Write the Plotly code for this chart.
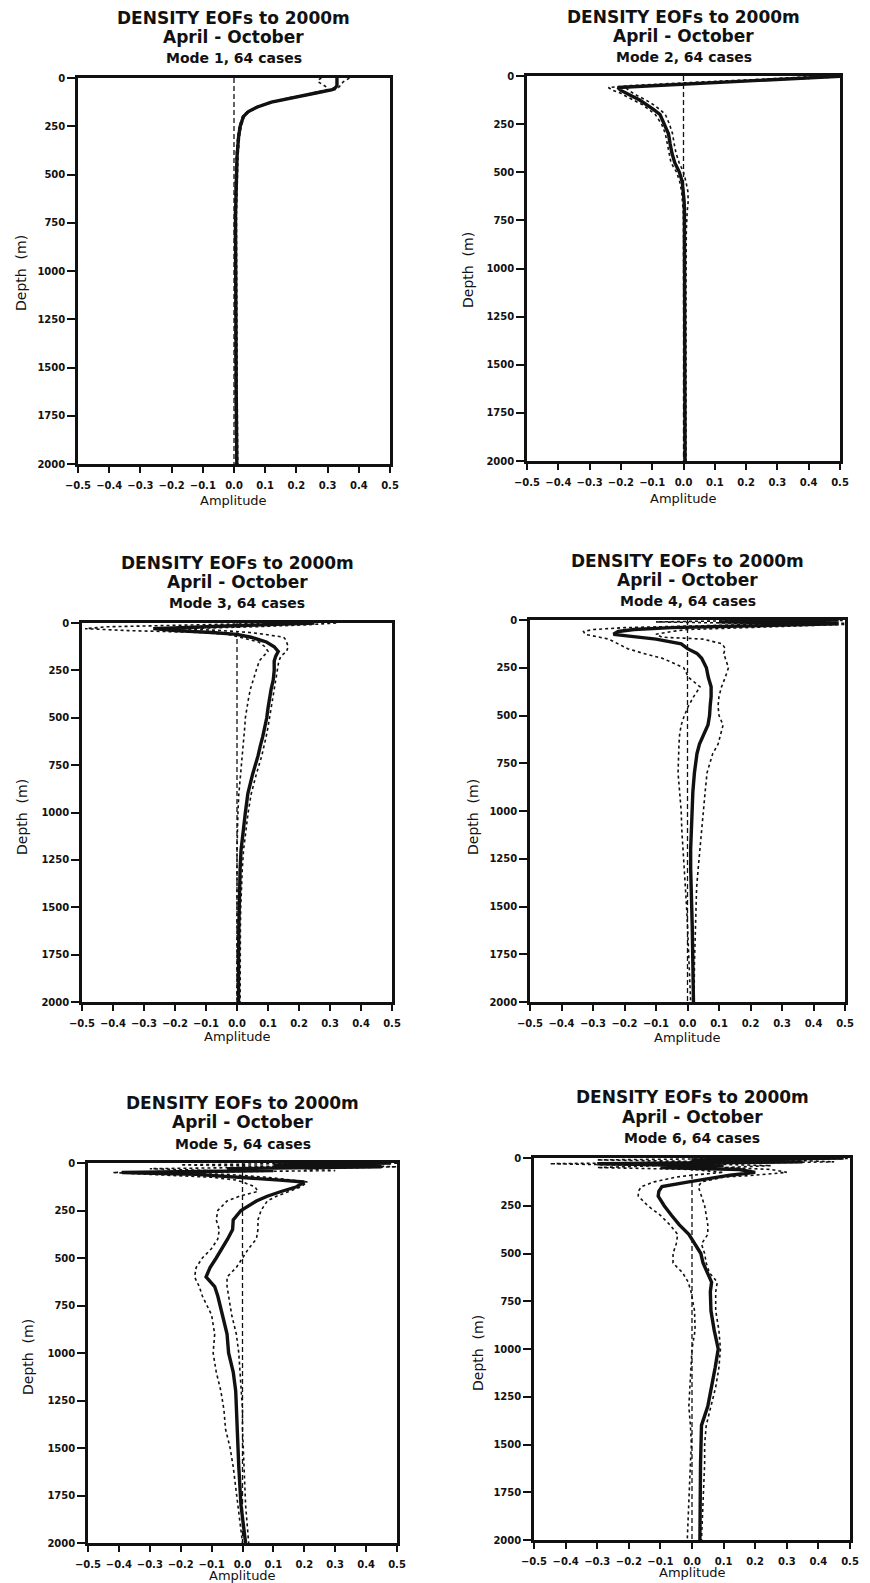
import plotly.graph_objects as go

# ---------------- data ----------------
depth = [0, 10, 20, 30, 40, 50, 60, 75, 90, 100, 125, 150, 175, 200, 250, 300, 350, 400, 450, 500,
         550, 600, 650, 700, 800, 900, 1000, 1100, 1200, 1300, 1400, 1500, 1600, 1800, 2000]

mode1_mean = [0.33, 0.33, 0.33, 0.33, 0.33, 0.325, 0.315, 0.27, 0.225, 0.19, 0.12, 0.075, 0.045, 0.03, 0.02, 0.015,
              0.012, 0.01, 0.009, 0.008, 0.007, 0.006, 0.006, 0.005, 0.005, 0.005, 0.005, 0.005, 0.005, 0.006,
              0.006, 0.007, 0.007, 0.008, 0.009]
mode1_lower = [0.28, 0.27, 0.27, 0.28, 0.29, 0.3, 0.3, 0.262, 0.218, 0.184, 0.115, 0.071, 0.042, 0.027, 0.017,
               0.012, 0.009, 0.007, 0.006, 0.005, 0.004, 0.003, 0.003, 0.002, 0.002, 0.002, 0.002, 0.002, 0.002,
               0.003, 0.003, 0.004, 0.004, 0.005, 0.006]
mode1_upper = [0.37, 0.36, 0.35, 0.345, 0.34, 0.335, 0.325, 0.278, 0.232, 0.196, 0.125, 0.079, 0.048, 0.033,
               0.023, 0.018, 0.015, 0.013, 0.012, 0.011, 0.01, 0.009, 0.009, 0.008, 0.008, 0.008, 0.008, 0.008,
               0.008, 0.009, 0.009, 0.01, 0.01, 0.011, 0.012]

mode2_mean = [0.52, 0.4, 0.26, 0.12, -0.01, -0.12, -0.21, -0.2, -0.18, -0.17, -0.14, -0.115, -0.095, -0.075,
              -0.06, -0.048, -0.043, -0.037, -0.028, -0.013, -0.004, 0.0, 0.002, 0.003, 0.003, 0.003, 0.004,
              0.004, 0.004, 0.004, 0.004, 0.005, 0.005, 0.005, 0.005]
mode2_lower = [0.45, 0.34, 0.21, 0.07, -0.06, -0.17, -0.24, -0.225, -0.2, -0.19, -0.16, -0.13, -0.11, -0.09,
               -0.07, -0.058, -0.052, -0.047, -0.04, -0.022, -0.012, -0.006, -0.003, -0.001, 0.0, 0.0, 0.001,
               0.001, 0.001, 0.001, 0.002, 0.002, 0.002, 0.002, 0.002]
mode2_upper = [0.56, 0.44, 0.3, 0.16, 0.03, -0.08, -0.185, -0.175, -0.16, -0.15, -0.12, -0.095, -0.075, -0.058,
               -0.045, -0.035, -0.03, -0.024, -0.014, 0.0, 0.008, 0.014, 0.015, 0.012, 0.009, 0.008, 0.008,
               0.008, 0.008, 0.008, 0.008, 0.008, 0.008, 0.008, 0.008]

mode3_mean = [0.25, 0.1, -0.1, -0.27, -0.2, -0.08, 0.0, 0.045, 0.08, 0.095, 0.12, 0.133, 0.125, 0.12, 0.12,
              0.117, 0.11, 0.104, 0.1, 0.096, 0.09, 0.083, 0.075, 0.068, 0.05, 0.035, 0.027, 0.02, 0.013, 0.01,
              0.008, 0.007, 0.006, 0.005, 0.005]
mode3_lower = [0.15, -0.15, -0.42, -0.49, -0.35, -0.12, -0.03, 0.01, 0.05, 0.07, 0.09, 0.1, 0.085, 0.072,
               0.062, 0.052, 0.043, 0.037, 0.031, 0.027, 0.025, 0.022, 0.02, 0.016, 0.011, 0.006, 0.003, 0.001,
               0.0, 0.0, 0.0, 0.0, 0.0, 0.0, 0.0]
mode3_upper = [0.32, 0.22, 0.05, -0.18, -0.05, 0.04, 0.09, 0.15, 0.158, 0.16, 0.165, 0.16, 0.142, 0.135, 0.13,
               0.125, 0.12, 0.115, 0.11, 0.107, 0.1, 0.094, 0.087, 0.08, 0.062, 0.046, 0.036, 0.028, 0.021,
               0.017, 0.014, 0.012, 0.011, 0.01, 0.01]

mode4_mean = [0.48, 0.1, 0.48, 0.15, -0.05, -0.17, -0.22, -0.235, -0.15, -0.1, -0.02, 0.0, 0.03, 0.045, 0.06,
              0.066, 0.075, 0.075, 0.072, 0.07, 0.065, 0.05, 0.038, 0.03, 0.022, 0.017, 0.014, 0.012, 0.01,
              0.01, 0.012, 0.013, 0.015, 0.017, 0.019]
mode4_lower = [0.3, -0.1, 0.3, 0.0, -0.2, -0.3, -0.33, -0.325, -0.28, -0.25, -0.22, -0.19, -0.14, -0.08,
               -0.012, 0.003, 0.04, 0.02, 0.003, -0.01, -0.02, -0.025, -0.027, -0.028, -0.03, -0.025, -0.02,
               -0.018, -0.014, -0.01, -0.005, -0.003, 0.0, 0.005, 0.01]
mode4_upper = [0.55, 0.3, 0.55, 0.35, 0.15, 0.0, -0.05, -0.1, -0.08, 0.05, 0.11, 0.12, 0.115, 0.12, 0.13,
               0.12, 0.108, 0.1, 0.097, 0.1, 0.113, 0.105, 0.097, 0.08, 0.062, 0.056, 0.05, 0.045, 0.038,
               0.034, 0.029, 0.027, 0.025, 0.022, 0.021]

mode5_mean = [0.48, 0.1, 0.45, -0.05, 0.1, -0.39, -0.15, 0.0, 0.12, 0.2, 0.175, 0.125, 0.08, 0.045, -0.005,
              -0.03, -0.032, -0.048, -0.065, -0.085, -0.105, -0.118, -0.09, -0.08, -0.065, -0.05, -0.045,
              -0.03, -0.022, -0.02, -0.018, -0.015, -0.012, -0.005, 0.01]
mode5_lower = [0.3, -0.2, 0.2, -0.3, -0.1, -0.42, -0.3, -0.1, -0.02, 0.0, 0.04, 0.05, -0.01, -0.05, -0.08,
               -0.085, -0.075, -0.08, -0.1, -0.13, -0.15, -0.155, -0.14, -0.13, -0.1, -0.09, -0.095, -0.085,
               -0.07, -0.06, -0.055, -0.04, -0.03, -0.015, 0.0]
mode5_upper = [0.52, 0.3, 0.5, 0.2, 0.3, -0.3, -0.05, 0.08, 0.16, 0.21, 0.19, 0.15, 0.11, 0.08, 0.06, 0.05,
               0.05, 0.045, 0.02, 0.0, -0.02, -0.05, -0.05, -0.045, -0.035, -0.02, -0.012, -0.008, -0.005,
               0.0, 0.0, 0.003, 0.005, 0.01, 0.02]

mode6_mean = [0.48, 0.0, 0.35, -0.3, 0.1, -0.1, 0.15, 0.2, 0.12, 0.08, -0.01, -0.095, -0.105, -0.107, -0.088,
              -0.065, -0.04, -0.01, 0.01, 0.028, 0.035, 0.048, 0.062, 0.058, 0.06, 0.07, 0.083, 0.073, 0.062,
              0.05, 0.03, 0.028, 0.027, 0.026, 0.025]
mode6_lower = [0.3, -0.3, 0.1, -0.45, -0.1, -0.3, 0.0, 0.1, 0.0, -0.05, -0.12, -0.16, -0.17, -0.17, -0.14,
               -0.1, -0.07, -0.045, -0.05, -0.06, -0.06, -0.03, -0.012, -0.003, 0.008, 0.01, 0.0, -0.003,
               -0.008, -0.01, -0.005, -0.002, -0.005, -0.01, -0.015]
mode6_upper = [0.55, 0.3, 0.45, 0.0, 0.25, 0.1, 0.25, 0.3, 0.2, 0.1, 0.03, 0.02, 0.025, 0.03, 0.04, 0.045,
               0.05, 0.05, 0.03, 0.04, 0.045, 0.055, 0.08, 0.075, 0.075, 0.085, 0.09, 0.085, 0.075, 0.06,
               0.045, 0.04, 0.04, 0.035, 0.03]

modes = [1, 2, 3, 4, 5, 6]
means = [mode1_mean, mode2_mean, mode3_mean, mode4_mean, mode5_mean, mode6_mean]
lowers = [mode1_lower, mode2_lower, mode3_lower, mode4_lower, mode5_lower, mode6_lower]
uppers = [mode1_upper, mode2_upper, mode3_upper, mode4_upper, mode5_upper, mode6_upper]

title_line1 = "DENSITY EOFs to 2000m"
title_line2 = "April - October"
n_cases = 64

x_tickvals = [-0.5, -0.4, -0.3, -0.2, -0.1, 0.0, 0.1, 0.2, 0.3, 0.4, 0.5]
x_ticktext = ["\u22120.5", "\u22120.4", "\u22120.3", "\u22120.2", "\u22120.1", "0.0", "0.1", "0.2", "0.3", "0.4", "0.5"]
y_tickvals = [0, 250, 500, 750, 1000, 1250, 1500, 1750, 2000]

# ---------------- layout (pixels) ----------------
W, H = 870, 1583
# plot boxes: left, right, top, bottom
boxes = [(78, 390, 78, 464), (527, 840, 76, 461),
         (82, 392, 623, 1002), (530, 845, 620, 1002),
         (88, 397, 1163, 1543), (534, 850, 1158, 1540)]
title_ys = [(18, 37, 58), (17, 36, 57), (563, 582, 603), (561, 580, 601), (1103, 1122, 1144), (1097, 1117, 1138)]
amp_y = [500, 498, 1036, 1037, 1575, 1572]
depth_lbl = [(21, 273), (468, 270), (22, 817), (473, 817), (28, 1357), (478, 1353)]

FONT = "DejaVu Sans"
INK = "#111111"

fig = go.Figure()
annotations = []
layout_axes = {}

for i, m in enumerate(modes):
    k = i + 1
    xa = "x" if k == 1 else f"x{k}"
    ya = "y" if k == 1 else f"y{k}"
    l, r, t, b = boxes[i]
    # zero reference (dashed)
    fig.add_trace(go.Scatter(x=[0, 0], y=[0, 2000], mode="lines", xaxis=xa, yaxis=ya,
                             line=dict(color=INK, width=1.3, dash="5px,3px"), showlegend=False, hoverinfo="skip"))
    fig.add_trace(go.Scatter(x=lowers[i], y=depth, mode="lines", xaxis=xa, yaxis=ya,
                             line=dict(color=INK, width=1.6, dash="dot"), showlegend=False))
    fig.add_trace(go.Scatter(x=uppers[i], y=depth, mode="lines", xaxis=xa, yaxis=ya,
                             line=dict(color=INK, width=1.6, dash="dot"), showlegend=False))
    fig.add_trace(go.Scatter(x=means[i], y=depth, mode="lines", xaxis=xa, yaxis=ya,
                             line=dict(color=INK, width=3.4), showlegend=False))

    xkey = "xaxis" if k == 1 else f"xaxis{k}"
    ykey = "yaxis" if k == 1 else f"yaxis{k}"
    layout_axes[xkey] = dict(domain=[l / W, r / W], anchor=ya, range=[-0.5, 0.5], automargin=False,
                             tickvals=x_tickvals, ticktext=x_ticktext, ticks="outside", ticklen=6,
                             tickwidth=2, tickcolor=INK, showline=True, linewidth=2.5, linecolor=INK,
                             mirror=True, showgrid=False, zeroline=False, ticklabelstandoff=4,
                             tickfont=dict(family=FONT, size=10, color=INK, weight="bold"))
    layout_axes[ykey] = dict(domain=[1 - b / H, 1 - t / H], anchor=xa, range=[2000, 0], automargin=False,
                             tickvals=y_tickvals, ticks="outside", ticklen=8, tickwidth=2, tickcolor=INK,
                             showline=True, linewidth=2.5, linecolor=INK, mirror=True, showgrid=False,
                             zeroline=False,
                             tickfont=dict(family=FONT, size=10, color=INK, weight="bold"))

    cx = (l + r) / 2 / W
    y1, y2, y3 = title_ys[i]
    for txt, yy, sz in [(title_line1, y1, 17), (title_line2, y2, 17), (f"Mode {m}, {n_cases} cases", y3, 14)]:
        annotations.append(dict(text=f"<b>{txt}</b>", x=cx, y=1 - yy / H, xref="paper", yref="paper",
                                xanchor="center", yanchor="middle", showarrow=False,
                                font=dict(family=FONT, size=sz, color=INK)))
    annotations.append(dict(text="Amplitude", x=cx, y=1 - amp_y[i] / H, xref="paper", yref="paper",
                            xanchor="center", yanchor="middle", showarrow=False,
                            font=dict(family=FONT, size=13, color=INK)))
    dx, dy = depth_lbl[i]
    annotations.append(dict(text="Depth  (m)", x=dx / W, y=1 - dy / H, xref="paper", yref="paper",
                            xanchor="center", yanchor="middle", showarrow=False, textangle=-90,
                            font=dict(family=FONT, size=14, color=INK)))

fig.update_layout(width=W, height=H, margin=dict(l=0, r=0, t=0, b=0, autoexpand=False),
                  paper_bgcolor="white", plot_bgcolor="white", showlegend=False,
                  annotations=annotations, **layout_axes)

fig.write_html("out.html", config={"displayModeBar": False},
               post_script="document.body.style.margin='0';document.body.style.overflow='hidden';")
